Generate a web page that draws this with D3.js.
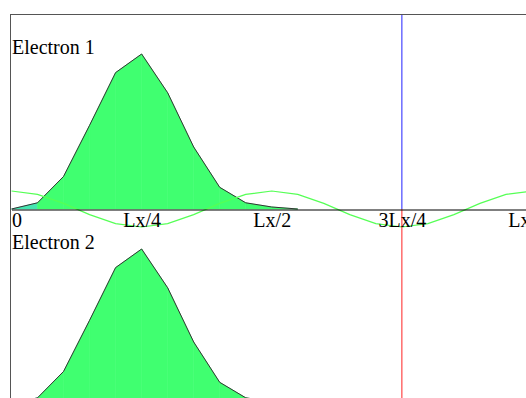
<!DOCTYPE html>
<html>
<head>
<meta charset="utf-8">
<script src="https://cdn.jsdelivr.net/npm/d3@7"></script>
<style>
  html, body { margin: 0; padding: 0; background: #fff; overflow: hidden; }
  svg { display: block; }
  text { font-family: "Liberation Serif", "Times New Roman", serif; }
</style>
</head>
<body>
<svg id="chart" width="526" height="398"></svg>
<script>
// ---- data (positions in units of Lx) ----
const tickPositions = [0, 0.25, 0.5, 0.75, 1];
const tickLabels = ["0", "Lx/4", "Lx/2", "3Lx/4", "Lx"];

const densityX = [0, 0.05, 0.10, 0.15, 0.20, 0.25, 0.30, 0.35, 0.40, 0.45, 0.50, 0.55];
const electron1 = [0, 0.04, 0.21, 0.54, 0.88, 1.00, 0.75, 0.40, 0.14, 0.04, 0.013, 0];
const electron2 = [0, 0.04, 0.21, 0.54, 0.88, 1.00, 0.75, 0.40, 0.14, 0.04, 0.013, 0];
// fill colour of each sample interval (first interval is tinted teal)
const intervalColors = ["#45e6b0", "#40ff70", "#40ff70", "#40ff70", "#40ff70", "#40ff70",
                        "#40ff70", "#40ff70", "#40ff70", "#40ff70", "#40ff70"];

const potentialX = [0, 0.05, 0.10, 0.15, 0.20, 0.25, 0.30, 0.35, 0.40, 0.45, 0.50,
                    0.55, 0.60, 0.65, 0.70, 0.75, 0.80, 0.85, 0.90, 0.95, 1.00];
const potential = [1, 0.81, 0.31, -0.31, -0.81, -1, -0.81, -0.31, 0.31, 0.81, 1,
                   0.81, 0.31, -0.31, -0.81, -1, -0.81, -0.31, 0.31, 0.81, 1];

const panelNames = ["Electron 1", "Electron 2"];
const markerPos = 0.75;

// ---- layout ----
const svg = d3.select("#chart");
const W = 526, H = 398;
const frameLeft = 11, frameTop = 15;
const panelH = 195;
const baseline1 = 209;

const x = d3.scaleLinear().domain([0, 1]).range([11.5, 532]);

const panels = [
  { name: panelNames[0], data: electron1, base: baseline1 },
  { name: panelNames[1], data: electron2, base: baseline1 + panelH }
];

// frame
svg.append("rect")
  .attr("x", frameLeft - 0.5).attr("y", frameTop - 0.5)
  .attr("width", 700).attr("height", 700)
  .attr("fill", "none").attr("stroke", "#555").attr("stroke-width", 1);

panels.forEach((p, i) => {
  const y = d3.scaleLinear().domain([0, 1]).range([p.base, p.base - 155]);
  const area = d3.area()
    .x(d => x(d.x))
    .y0(p.base)
    .y1(d => y(d.v));
  const pts = p.data.map((v, j) => ({ x: densityX[j], v }));
  // one trapezoid per sample interval
  const segs = d3.range(pts.length - 1).map(j => [pts[j], pts[j + 1]]);
  svg.append("g").selectAll("path").data(segs).join("path")
    .attr("d", area)
    .attr("fill", (d, j) => intervalColors[j])
    .attr("stroke", (d, j) => intervalColors[j])
    .attr("stroke-width", 0.6);
  svg.append("path").datum(pts)
    .attr("d", d3.line().x(d => x(d.x)).y(d => y(d.v)))
    .attr("fill", "none")
    .attr("stroke", "#333")
    .attr("stroke-width", 1);

  svg.append("text")
    .attr("x", 12).attr("y", p.base - 155)
    .attr("font-size", 20).attr("fill", "#000")
    .text(p.name);
});

// potential line (top panel)
const yPot = d3.scaleLinear().domain([-1, 1]).range([baseline1 + 18, baseline1 - 18]);
svg.append("path").datum(potential)
  .attr("d", d3.line().x((d, j) => x(potentialX[j])).y(d => yPot(d)))
  .attr("fill", "none")
  .attr("stroke", "#55ff55")
  .attr("stroke-width", 1.2);

// marker lines
const mx = x(markerPos);
svg.append("line")
  .attr("x1", mx).attr("x2", mx).attr("y1", frameTop).attr("y2", baseline1)
  .attr("stroke", "#2222ff").attr("stroke-width", 1);
svg.append("line")
  .attr("x1", mx).attr("x2", mx).attr("y1", baseline1).attr("y2", H)
  .attr("stroke", "#ff2222").attr("stroke-width", 1);

// x axis
const axis = d3.axisBottom(x)
  .tickValues(tickPositions)
  .tickFormat((d, i) => tickLabels[i])
  .tickSizeInner(0).tickSizeOuter(0).tickPadding(3);
const gAxis = svg.append("g")
  .attr("transform", `translate(0,${baseline1 + 0.5})`)
  .call(axis);
gAxis.select(".domain").attr("stroke", "#000").attr("stroke-width", 1);
gAxis.selectAll("text")
  .attr("font-family", "Liberation Serif, Times New Roman, serif")
  .attr("font-size", 20)
  .attr("fill", "#000")
  .attr("text-anchor", (d, i) => i === 0 ? "start" : (i === tickPositions.length - 1 ? "end" : "middle"))
  .attr("dx", (d, i) => i === tickPositions.length - 1 ? -2 : 0);
</script>
</body>
</html>
